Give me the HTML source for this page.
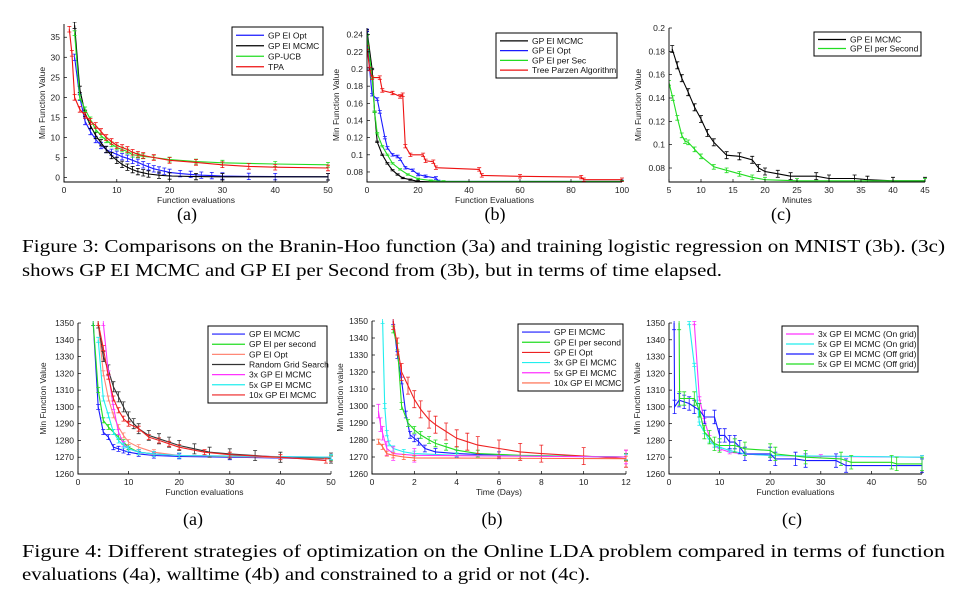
<!DOCTYPE html>
<html><head><meta charset="utf-8">
<style>
html,body{margin:0;padding:0;background:#fff;}
svg{display:block;font-family:"Liberation Sans",sans-serif;}
.cap{font-family:"Liberation Serif",serif;font-size:18px;fill:#000;}
</style></head>
<body>
<svg id="fig" width="955" height="591" viewBox="0 0 955 591" xmlns="http://www.w3.org/2000/svg">
<text class="cap" x="187" y="220" text-anchor="middle">(a)</text>
<text class="cap" x="495" y="220" text-anchor="middle">(b)</text>
<text class="cap" x="781" y="220" text-anchor="middle">(c)</text>
<text class="cap" x="22" y="252" textLength="923" lengthAdjust="spacingAndGlyphs">Figure 3: Comparisons on the Branin-Hoo function (3a) and training logistic regression on MNIST (3b). (3c)</text>
<text class="cap" x="22" y="276" textLength="700" lengthAdjust="spacingAndGlyphs">shows GP EI MCMC and GP EI per Second from (3b), but in terms of time elapsed.</text>
<text class="cap" x="193" y="525" text-anchor="middle">(a)</text>
<text class="cap" x="492" y="525" text-anchor="middle">(b)</text>
<text class="cap" x="792" y="525" text-anchor="middle">(c)</text>
<text class="cap" x="22" y="557" textLength="923" lengthAdjust="spacingAndGlyphs">Figure 4: Different strategies of optimization on the Online LDA problem compared in terms of function</text>
<text class="cap" x="22" y="580" textLength="568" lengthAdjust="spacingAndGlyphs">evaluations (4a), walltime (4b) and constrained to a grid or not (4c).</text>
</svg>
<script>
// ---------- Data: chart 3a ----------
const c3aNames = ["GP EI Opt","GP EI MCMC","GP-UCB","TPA"];
const c3aOptX = [2,3,4,5,6,7,8,9,10,11,12,13,14,15,16,17,18,19,20,22,24,26,28,30,35,40,50];
const c3aOptY = [30,20,14,11.5,9.5,8,7,6.3,5.8,5.2,4.8,4.3,3.8,3.2,2.7,2.2,1.9,1.6,1.3,1.0,0.8,0.6,0.5,0.4,0.3,0.25,0.2];
const c3aMcmcX = [2,3,4,5,6,7,8,9,10,11,12,13,14,15,16,18,20,25,30,50];
const c3aMcmcY = [38,22,16,13,10.5,8.7,7,5.5,4.3,3.3,2.6,2,1.5,1.2,0.9,0.6,0.4,0.25,0.2,0.2];
const c3aUcbX = [2,3,4,5,6,7,8,9,10,11,12,13,14,15,17,20,25,30,40,50];
const c3aUcbY = [36,20,17,14.5,12,10.5,9.3,8.3,7.5,7,6.5,5.7,5.5,5.3,5,4.5,4,3.7,3.4,3.2];
const c3aTpaX = [1,1.5,2,3,4,5,6,7,8,9,10,11,12,13,14,15,17,20,25,30,35,40,50];
const c3aTpaY = [37,31,20,17,15.5,14,13,11.5,10,9,8,7.5,7,6.3,5.8,5.5,5,4.3,3.8,3.2,2.8,2.6,2.4];
const c3aErr = [0.8,0.8,0.6,0.7];
// ---------- Data: chart 3b ----------
const c3bNames = ["GP EI MCMC","GP EI Opt","GP EI per Sec","Tree Parzen Algorithm"];
const c3bMcmcX = [0,2,3,4,6,8,10,12,14,17,20,25,100];
const c3bMcmcY = [0.245,0.2,0.15,0.115,0.1,0.09,0.082,0.077,0.073,0.071,0.069,0.0685,0.0685];
const c3bOptX = [0,1,2,4,5,7,8,10,12,13,15,18,20,23,27,28,100];
const c3bOptY = [0.245,0.2,0.17,0.165,0.15,0.12,0.108,0.1,0.098,0.095,0.085,0.082,0.077,0.075,0.073,0.069,0.069];
const c3bSecX = [0,2,3,4,6,8,10,13,16,20,25,30,100];
const c3bSecY = [0.24,0.19,0.15,0.125,0.11,0.1,0.09,0.083,0.077,0.072,0.07,0.069,0.069];
const c3bTpeX = [0,1,2,5,6,10,13,14,15,17,22,23,26,27,44,45,60,84,85,100];
const c3bTpeY = [0.225,0.2,0.19,0.19,0.175,0.172,0.168,0.17,0.11,0.1,0.1,0.093,0.092,0.085,0.083,0.076,0.075,0.074,0.071,0.071];
const c3bErr = [0.0008,0.0015,0.0008,0.002];
// ---------- Data: chart 3c ----------
const c3cNames = ["GP EI MCMC","GP EI per Second"];
const c3cMcmcX = [5.5,6.3,7,8,9,10,11,12,14,16,18,19,20,22,24,28,30,34,36,40,45];
const c3cMcmcY = [0.182,0.168,0.157,0.145,0.132,0.122,0.11,0.102,0.091,0.09,0.087,0.08,0.077,0.075,0.073,0.073,0.071,0.071,0.07,0.069,0.069];
const c3cSecX = [5,5.6,6.3,7,7.5,8,9,10,12,14,16,18,20,25,45];
const c3cSecY = [0.153,0.14,0.123,0.108,0.103,0.102,0.096,0.09,0.081,0.078,0.075,0.072,0.07,0.069,0.069];
const c3cErr = [0.003,0.002];
// ---------- Data: chart 4a ----------
const c4aNames = ["GP EI MCMC","GP EI per second","GP EI Opt","Random Grid Search","3x GP EI MCMC","5x GP EI MCMC","10x GP EI MCMC"];
const c4aMcmcX = [3,4,5,6,7,8,9,10,12,15,20,30,50];
const c4aMcmcY = [1350,1300,1285,1282,1276,1275,1274,1273,1272,1271,1270.5,1270,1269];
const c4aSecX = [3,4,5,6,7,8,9,10,12,15,20,50];
const c4aSecY = [1350,1310,1292,1288,1285,1282,1279,1276,1273,1272,1271,1269.5];
const c4aOptX = [4,5,6,7,8,9,10,12,15,20,30,50];
const c4aOptY = [1350,1320,1305,1295,1288,1283,1279,1276,1273,1271,1270.5,1269];
const c4aRandX = [4,5,6,7,8,9,10,11,12,14,16,18,20,23,26,30,35,40,50];
const c4aRandY = [1350,1330,1322,1312,1306,1300,1294,1290,1287,1283,1281,1279,1277,1275,1273,1272,1271,1270,1269.5];
const c4a3xX = [5,6,7,8,9,10,12,15,20,50];
const c4a3xY = [1350,1320,1300,1285,1278,1275,1273,1272,1271,1270];
const c4a5xX = [4,5,6,7,8,9,10,12,15,20,50];
const c4a5xY = [1340,1305,1295,1285,1280,1277,1275,1273,1272,1271,1270];
const c4a10xX = [4,5,6,7,8,9,10,12,14,16,18,20,25,30,40,49];
const c4a10xY = [1350,1335,1318,1305,1298,1293,1290,1287,1282,1280,1278,1276,1273,1271.5,1270,1268];
const c4aErr = [1.5,1.5,1.5,3,1.5,1.5,1.5];
// ---------- Data: chart 4b ----------
const c4bNames = ["GP EI MCMC","GP EI per second","GP EI Opt","3x GP EI MCMC","5x GP EI MCMC","10x GP EI MCMC"];
const c4bMcmcX = [1,1.2,1.4,1.6,1.8,2,2.2,2.5,3,4,6,12];
const c4bMcmcY = [1350,1330,1315,1295,1283,1281,1279,1275,1273,1272,1271,1270];
const c4bSecX = [1,1.2,1.4,1.7,2,2.3,2.7,3,3.5,4,5,7,12];
const c4bSecY = [1345,1335,1300,1290,1286,1283,1280,1278,1276,1274,1272,1271,1270];
const c4bOptX = [1,1.2,1.4,1.7,2,2.3,2.7,3,3.5,4,4.5,5,6,7,8,10,12];
const c4bOptY = [1350,1335,1320,1312,1304,1298,1292,1289,1285,1281,1279,1277,1275,1273,1272,1270.5,1269];
const c4b3xX = [0.5,0.6,0.7,0.8,1,1.5,2,4,12];
const c4b3xY = [1350,1300,1284,1278,1275,1273,1272,1271,1270];
const c4b5xX = [0.3,0.4,0.5,0.7,1,2,12];
const c4b5xY = [1297,1289,1284,1275,1272,1271,1270];
const c4b10xX = [0.3,0.5,0.7,1,1.5,2,12];
const c4b10xY = [1279,1276,1272,1271,1270,1269.5,1269];
const c4bErr = [2,2,5,1.5,4,1.5];
// ---------- Data: chart 4c ----------
const c4cNames = ["3x GP EI MCMC (On grid)","5x GP EI MCMC (On grid)","3x GP EI MCMC (Off grid)","5x GP EI MCMC (Off grid)"];
const c4cOn3X = [5,6,7,8,9,10,12,15,20,30,50];
const c4cOn3Y = [1350,1305,1292,1282,1277,1275,1273,1272,1271,1270.5,1270];
const c4cOn5X = [4,5,6,7,8,9,10,12,15,20,50];
const c4cOn5Y = [1350,1325,1290,1285,1280,1277,1276,1274,1272,1271,1270];
const c4cOff3X = [1,1.1,2,3,4,5,6,7,9,10,11,12,13,14,15,20,21,25,27,33,35,50];
const c4cOff3Y = [1350,1300,1304,1303,1302,1300,1298,1294,1294,1283,1283,1279,1279,1276,1272,1272,1269,1269,1268,1268,1265,1265];
const c4cOff5X = [2,2.1,3,5,6,7,8,9,10,13,15,20,21,27,34,36,44,45,50];
const c4cOff5Y = [1350,1305,1305,1305,1298,1285,1282,1278,1277,1277,1275,1274,1272,1270,1269,1267,1267,1266,1266];
const c4cErr = [1,1,4,4];

const NS = "http://www.w3.org/2000/svg";
const svg = document.getElementById('fig');
function mk(tag, attrs, parent){
  const e = document.createElementNS(NS, tag);
  for (const k in attrs) e.setAttribute(k, attrs[k]);
  (parent||svg).appendChild(e);
  return e;
}
function fmt(v){ return (Math.round(v*1000)/1000).toString(); }

function drawChart(cfg){
  const g = mk('g', {});
  
  
  const sx = v => cfg.x0 + (v - cfg.xmin) / (cfg.xmax - cfg.xmin) * (cfg.x1 - cfg.x0);
  const sy = v => cfg.y0 + (v - cfg.ymin) / (cfg.ymax - cfg.ymin) * (cfg.y1 - cfg.y0);
  const clipId = cfg.name + '-clip';
  const cp = mk('clipPath', {id: clipId}, g);
  mk('rect', {x: cfg.x0, y: cfg.y1 - 2, width: cfg.x1 - cfg.x0 + 2, height: cfg.y0 - cfg.y1 + 2}, cp);
  const sg = mk('g', {'clip-path': 'url(#' + clipId + ')'}, g);
  cfg.series.forEach((s, i) => {
    const pts = s.xs.map((x, j) => sx(x).toFixed(1) + ',' + sy(s.ys[j]).toFixed(1)).join(' ');
    const pl = mk('polyline', {points: pts, fill: 'none', stroke: s.color, 'stroke-width': 1.1}, sg);
    
    
    if (s.err) {
      let d = '';
      s.xs.forEach((x, j) => {
        const px = sx(x), a = sy(s.ys[j] + s.err), b = sy(s.ys[j] - s.err);
        d += 'M' + px.toFixed(1) + ' ' + a.toFixed(1) + 'V' + b.toFixed(1) +
             'M' + (px - 2).toFixed(1) + ' ' + a.toFixed(1) + 'h4M' + (px - 2).toFixed(1) + ' ' + b.toFixed(1) + 'h4';
      });
      const eb = mk('path', {d: d, stroke: s.color, 'stroke-width': 0.8, fill: 'none'}, sg);
      
      
    }
  });
  const ax = mk('path', {d: 'M' + cfg.x0 + ' ' + cfg.y1 + 'V' + cfg.y0 + 'H' + cfg.x1, stroke: '#000', 'stroke-width': 0.9, fill: 'none'}, g);
  
  
  cfg.xticks.forEach(t => {
    const px = sx(t);
    mk('line', {x1: px, x2: px, y1: cfg.y0, y2: cfg.y0 - 3, stroke: '#000', 'stroke-width': 0.7}, g);
    const tx = mk('text', {x: px, y: cfg.y0 + 11, 'font-size': 8.5, 'text-anchor': 'middle', fill: '#222'}, g);
    tx.textContent = fmt(t);
    
    
  });
  cfg.yticks.forEach(t => {
    const py = sy(t);
    mk('line', {x1: cfg.x0, x2: cfg.x0 + 3, y1: py, y2: py, stroke: '#000', 'stroke-width': 0.7}, g);
    const tx = mk('text', {x: cfg.x0 - 4, y: py + 3, 'font-size': 8.5, 'text-anchor': 'end', fill: '#222'}, g);
    tx.textContent = fmt(t);
    
    
  });
  const xl = mk('text', {x: (cfg.x0 + cfg.x1) / 2, y: cfg.y0 + 21, 'font-size': 8.5, 'text-anchor': 'middle', fill: '#222'}, g);
  xl.textContent = cfg.xlabel;
  
  
  const yx = cfg.ylabelX, yy = (cfg.y0 + cfg.y1) / 2;
  const yl = mk('text', {x: yx, y: yy, 'font-size': 8.5, 'text-anchor': 'middle', fill: '#222', transform: 'rotate(-90 ' + yx + ' ' + yy + ')'}, g);
  yl.textContent = cfg.ylabel;
  
  
  const L = cfg.legend;
  const lg = mk('g', {}, g);
  
  
  mk('rect', {x: L.x, y: L.y, width: L.w, height: L.h, fill: '#fff', stroke: '#000', 'stroke-width': 1}, lg);
  const rowH = (L.h - 6) / cfg.series.length;
  cfg.series.forEach((s, i) => {
    const cy = L.y + 3 + rowH * (i + 0.5);
    mk('line', {x1: L.x + 4, x2: L.x + 4 + L.sw, y1: cy, y2: cy, stroke: s.color, 'stroke-width': 1.2}, lg);
    const t = mk('text', {x: L.x + 8 + L.sw, y: cy + 3, 'font-size': 8.5, fill: '#111'}, lg);
    t.textContent = s.label;
    
    
  });
}
function range(a, b, st){ const r = []; for (let v = a; v <= b + 1e-9; v += st) r.push(Math.round(v*1000)/1000); return r; }

drawChart({name: 'chart-3a', x0: 64, x1: 328, y0: 182, y1: 24, xmin: 0, xmax: 50, ymin: -1.1, ymax: 38.3,
  xticks: range(0, 50, 10), yticks: range(0, 35, 5), xlabel: 'Function evaluations', ylabel: 'Min Function Value', ylabelX: 45,
  legend: {x: 232, y: 27, w: 91, h: 48, sw: 28},
  series: [
    {label: c3aNames[0], xs: c3aOptX, ys: c3aOptY, color: '#1a1aff', err: c3aErr[0]},
    {label: c3aNames[1], xs: c3aMcmcX, ys: c3aMcmcY, color: '#000', err: c3aErr[1]},
    {label: c3aNames[2], xs: c3aUcbX, ys: c3aUcbY, color: '#22dd22', err: c3aErr[2]},
    {label: c3aNames[3], xs: c3aTpaX, ys: c3aTpaY, color: '#ee1111', err: c3aErr[3]}]});

drawChart({name: 'chart-3b', x0: 367, x1: 622, y0: 182, y1: 28, xmin: 0, xmax: 100, ymin: 0.0683, ymax: 0.2478,
  xticks: range(0, 100, 20), yticks: range(0.08, 0.24, 0.02), xlabel: 'Function Evaluations', ylabel: 'Min Function Value', ylabelX: 339,
  legend: {x: 496, y: 33, w: 121, h: 45, sw: 28},
  series: [
    {label: c3bNames[0], xs: c3bMcmcX, ys: c3bMcmcY, color: '#000', err: c3bErr[0]},
    {label: c3bNames[1], xs: c3bOptX, ys: c3bOptY, color: '#1a1aff', err: c3bErr[1]},
    {label: c3bNames[2], xs: c3bSecX, ys: c3bSecY, color: '#22dd22', err: c3bErr[2]},
    {label: c3bNames[3], xs: c3bTpeX, ys: c3bTpeY, color: '#ee1111', err: c3bErr[3]}]});

drawChart({name: 'chart-3c', x0: 669, x1: 925, y0: 182, y1: 28, xmin: 5, xmax: 45, ymin: 0.068, ymax: 0.2,
  xticks: range(5, 45, 5), yticks: range(0.08, 0.2, 0.02), xlabel: 'Minutes', ylabel: 'Min Function Value', ylabelX: 641,
  legend: {x: 814, y: 32, w: 107, h: 24, sw: 28},
  series: [
    {label: c3cNames[0], xs: c3cMcmcX, ys: c3cMcmcY, color: '#000', err: c3cErr[0]},
    {label: c3cNames[1], xs: c3cSecX, ys: c3cSecY, color: '#22dd22', err: c3cErr[1]}]});

drawChart({name: 'chart-4a', x0: 78, x1: 331, y0: 474, y1: 323, xmin: 0, xmax: 50, ymin: 1260, ymax: 1350,
  xticks: range(0, 50, 10), yticks: range(1260, 1350, 10), xlabel: 'Function evaluations', ylabel: 'Min Function Value', ylabelX: 46,
  legend: {x: 208, y: 326, w: 119, h: 77, sw: 33},
  series: [
    {label: c4aNames[0], xs: c4aMcmcX, ys: c4aMcmcY, color: '#1a1aff', err: c4aErr[0]},
    {label: c4aNames[1], xs: c4aSecX, ys: c4aSecY, color: '#22dd22', err: c4aErr[1]},
    {label: c4aNames[2], xs: c4aOptX, ys: c4aOptY, color: '#ff8877', err: c4aErr[2]},
    {label: c4aNames[3], xs: c4aRandX, ys: c4aRandY, color: '#333', err: c4aErr[3]},
    {label: c4aNames[4], xs: c4a3xX, ys: c4a3xY, color: '#ff33ff', err: c4aErr[4]},
    {label: c4aNames[5], xs: c4a5xX, ys: c4a5xY, color: '#22eeee', err: c4aErr[5]},
    {label: c4aNames[6], xs: c4a10xX, ys: c4a10xY, color: '#ee2222', err: c4aErr[6]}]});

drawChart({name: 'chart-4b', x0: 372, x1: 626, y0: 474, y1: 321, xmin: 0, xmax: 12, ymin: 1260, ymax: 1350,
  xticks: range(0, 12, 2), yticks: range(1260, 1350, 10), xlabel: 'Time (Days)', ylabel: 'Min function value', ylabelX: 343,
  legend: {x: 518, y: 324, w: 105, h: 67, sw: 28},
  series: [
    {label: c4bNames[0], xs: c4bMcmcX, ys: c4bMcmcY, color: '#1a1aff', err: c4bErr[0]},
    {label: c4bNames[1], xs: c4bSecX, ys: c4bSecY, color: '#22dd22', err: c4bErr[1]},
    {label: c4bNames[2], xs: c4bOptX, ys: c4bOptY, color: '#ee2222', err: c4bErr[2]},
    {label: c4bNames[3], xs: c4b3xX, ys: c4b3xY, color: '#22eeee', err: c4bErr[3]},
    {label: c4bNames[4], xs: c4b5xX, ys: c4b5xY, color: '#ff33ff', err: c4bErr[4]},
    {label: c4bNames[5], xs: c4b10xX, ys: c4b10xY, color: '#ff6644', err: c4bErr[5]}]});

drawChart({name: 'chart-4c', x0: 669, x1: 922, y0: 474, y1: 323, xmin: 0, xmax: 50, ymin: 1260, ymax: 1350,
  xticks: range(0, 50, 10), yticks: range(1260, 1350, 10), xlabel: 'Function evaluations', ylabel: 'Min Function Value', ylabelX: 640,
  legend: {x: 782, y: 326, w: 136, h: 46, sw: 28},
  series: [
    {label: c4cNames[0], xs: c4cOn3X, ys: c4cOn3Y, color: '#ff33ff', err: c4cErr[0]},
    {label: c4cNames[1], xs: c4cOn5X, ys: c4cOn5Y, color: '#22eeee', err: c4cErr[1]},
    {label: c4cNames[2], xs: c4cOff3X, ys: c4cOff3Y, color: '#1a1aff', err: c4cErr[2]},
    {label: c4cNames[3], xs: c4cOff5X, ys: c4cOff5Y, color: '#22dd22', err: c4cErr[3]}]});
</script>
</body></html>
